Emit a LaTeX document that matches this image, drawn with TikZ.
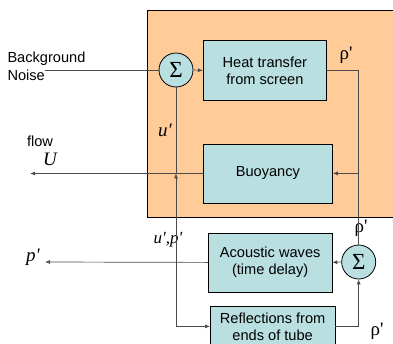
\documentclass[tikz,border=0pt]{standalone}
\usepackage{fontspec}
\setmainfont{Liberation Sans}
\newfontfamily\seriffont{Liberation Serif}
\usetikzlibrary{arrows.meta}
\definecolor{panel}{HTML}{FFCC99}
\definecolor{blockfill}{HTML}{B9DFE1}
\definecolor{wire}{HTML}{4A4A4A}
\begin{document}
\begin{tikzpicture}[x=1pt,y=-1pt,
  block/.style={draw=black, line width=0.8pt, fill=blockfill, align=center,
    font=\fontsize{14.6}{17}\selectfont, inner sep=0pt, anchor=north west},
  sumnode/.style={circle, draw=black, line width=0.8pt, fill=blockfill,
    minimum size=34pt, inner sep=0pt, font=\seriffont\fontsize{23}{23}\selectfont},
  sig/.style={draw=wire, line width=0.7pt},
  arr/.style={sig, -{Latex[length=5pt,width=4pt]}},
  lbl/.style={font=\fontsize{14.6}{17.5}\selectfont, inner sep=0pt},
  sym/.style={font=\seriffont\fontsize{19}{19}\selectfont, inner sep=0pt},
  isym/.style={sym, font=\seriffont\itshape\fontsize{19}{19}\selectfont}]

\useasboundingbox (0,0) rectangle (393,343);

% shaded region holding the screen loop
\fill[panel] (147,10) rectangle (393,217);
\draw[black, line width=0.8pt] (393,10) -- (147,10) -- (147,217) -- (393,217);

% blocks
\node[block, minimum width=123pt, minimum height=60pt] (heat) at (203,40) {Heat transfer\\from screen};
\node[block, minimum width=129pt, minimum height=59pt] (buoy) at (203,143.5) {Buoyancy};
\node[block, minimum width=123.5pt, minimum height=59pt] (acou) at (208,232.5) {Acoustic waves\\(time delay)};
\node[block, minimum width=124.5pt, minimum height=40pt] (refl) at (210,306) {Reflections from\\ends of tube};

% summing junctions
\node[sumnode] (sum1) at (176,70) {Σ};
\node[sumnode] (sum2) at (358.7,262) {Σ};

% free ends
\coordinate (noisein) at (45,70);
\coordinate (flowout) at (30,173.5);
\coordinate (pout) at (45,262);

% labels
\node[lbl, anchor=base west] (bgtxt) at (7.3,62.3) {Background};
\node[lbl, anchor=base west] (noisetxt) at (7.3,80) {Noise};
\node[lbl] (flowtxt) at (40,141) {flow};
\node[isym] (Utxt) at (50,159) {U};
\node[isym] (utxt) at (165,130) {u'};
\node[isym, font=\seriffont\itshape\fontsize{17}{17}\selectfont] (uptxt) at (168,240) {u',p'};
\node[isym] (ptxt) at (33,257) {p'};
\node[sym] (rhoA) at (346,55) {ρ'};
\node[sym] (rhoB) at (361,228) {ρ'};
\node[sym] (rhoC) at (377,331) {ρ'};

% connectors
\draw[sig] (noisein) -- (sum1.west);
\draw[arr] (sum1.east) -- (heat.west);
\draw[sig] (heat.east) -| (sum2.north);
\draw[arr] (sum2.north |- buoy.east) -- (buoy.east);
\draw[arr] (buoy.west) -- (flowout);
\draw[arr] (sum2.west) -- (acou.east);
\draw[arr] (acou.west) -- (pout);
\draw[arr] (sum1.south |- acou.west) -- (sum1.south |- buoy.west);
\draw[sig] (sum1.south |- buoy.west) -- (sum1.south);
\draw[arr] (sum1.south |- acou.west) |- (refl.west);
\draw[arr] (refl.east) -| (sum2.south);
\end{tikzpicture}
\end{document}
